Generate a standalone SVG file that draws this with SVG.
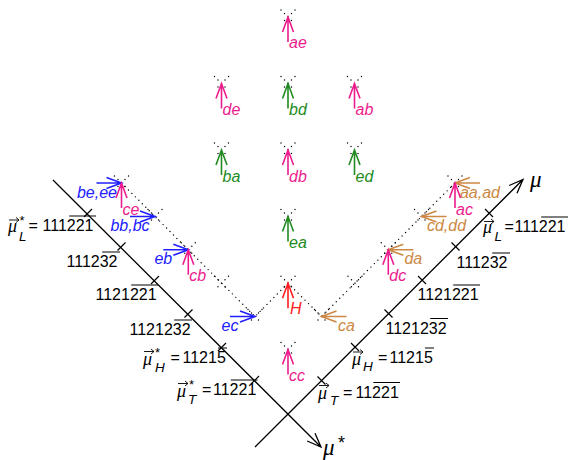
<svg xmlns="http://www.w3.org/2000/svg" width="570" height="460" viewBox="0 0 570 460">
<style>
  text { font-family: "Liberation Sans", Arial, sans-serif; fill: currentColor; }
  .lb { font-size: 16px; font-style: italic; }
  .num { font-size: 16px; font-style: normal; }
  .mu { font-family: "Liberation Serif", "DejaVu Serif", serif; font-style: italic; font-size: 18px; }
  .sub { font-size: 13.5px; font-style: italic; }
  .st { font-size: 13px; font-style: normal; }
  .ax { fill: none; stroke: #000; stroke-width: 1.3; }
  .tk { stroke: #000; stroke-width: 1.2; }
  .ov { stroke: #000; stroke-width: 1; }
  .vec { fill: none; stroke: #000; stroke-width: 0.9; }
  .dot { fill: none; stroke: #000; stroke-width: 1.4; stroke-linecap: round; stroke-dasharray: 0 4.9; }
  .pk { color: #ec1c8e; }
  .gr { color: #228b22; }
  .bl { color: #2020ff; }
  .br { color: #cc8844; }
  .rd { color: #ff2020; }
</style>
<defs>
  <!-- upward arrow, tip at origin -->
  <path id="up" d="M0,0V25M-5.5,15L0,0L5.5,15" fill="none" stroke="currentColor" stroke-width="1.6"/>
  <!-- small dotted cross marking a lattice point -->
  <path id="mk" d="M-7,-7L7,7M7,-7L-7,7" class="dot" style="stroke-dasharray:0 4.95"/>
</defs>

<!-- axes -->
<g id="axes">
  <path class="ax" d="M53,180L321,447M315,433.2L321,447L307.2,441"/>
  <path class="ax" d="M255,447L523,179.5M517,193.3L523,179.5L509.2,185.5"/>
  <path class="tk" d="M84,217L92,209M117.5,250.5L125.5,242.5M151,284L159,276M184.5,317.5L192.5,309.5M218,351L226,343M251,384L259,376"/>
  <path class="tk" d="M485,209L493,217M451.5,242.5L459.5,250.5M418,276L426,284M384.5,309.5L392.5,317.5M351,343L359,351M317.5,376.5L325.5,384.5"/>
  <text class="mu" x="530" y="187" style="font-size:23px">μ</text>
  <text><tspan class="mu" x="323" y="455" style="font-size:23px">μ</tspan><tspan x="338" y="449" style="font-size:18px">*</tspan></text>
</g>

<!-- axis labels, left -->
<g id="labels-left">
  <text><tspan class="mu" x="8" y="232">μ</tspan><tspan class="st" x="19.5" y="225">*</tspan><tspan class="sub" x="19" y="240.5">L</tspan><tspan class="num" x="28.5" y="231">=</tspan><tspan class="num" x="42.5">111221</tspan></text>
  <path class="vec" d="M9,220h10M16,217.5L19,220L16,222.5"/>
  <path class="ov" d="M69.2,216H96"/>

  <text class="num" x="66.5" y="267">111232</text>
  <path class="ov" d="M102.2,252H120"/>

  <text class="num" x="95.5" y="300">1121221</text>
  <path class="ov" d="M131.2,285H158"/>

  <text class="num" x="129.5" y="335">1121232</text>
  <path class="ov" d="M174.2,320H192"/>

  <text><tspan class="mu" x="143" y="365">μ</tspan><tspan class="st" x="155" y="356.5">*</tspan><tspan class="sub" x="155" y="372">H</tspan><tspan class="num" x="170.5" y="363">=</tspan><tspan class="num" x="182.5">11215</tspan></text>
  <path class="vec" d="M144,351.5h10M151,349L154,351.5L151,354"/>
  <path class="ov" d="M218,348H227"/>

  <text><tspan class="mu" x="177" y="397">μ</tspan><tspan class="st" x="189" y="388.5">*</tspan><tspan class="sub" x="188" y="404">T</tspan><tspan class="num" x="202" y="395">=</tspan><tspan class="num" x="213" y="395">11221</tspan></text>
  <path class="vec" d="M178,383.5h10M185,381L188,383.5L185,386"/>
  <path class="ov" d="M230.8,380H257.5"/>
</g>

<!-- axis labels, right -->
<g id="labels-right">
  <text><tspan class="mu" x="483" y="233">μ</tspan><tspan class="sub" x="494.5" y="240.5">L</tspan><tspan class="num" x="504.5" y="232">=</tspan><tspan class="num" x="514.5">111221</tspan></text>
  <path class="vec" d="M484,221.5h10M491,219L494,221.5L491,224"/>
  <path class="ov" d="M541.2,217H568"/>

  <text class="num" x="456.5" y="268">111232</text>
  <path class="ov" d="M492.2,253H510"/>

  <text class="num" x="417.5" y="300">1121221</text>
  <path class="ov" d="M453.2,285H480"/>

  <text class="num" x="385.5" y="333.5">1121232</text>
  <path class="ov" d="M430.2,318.5H448"/>

  <text><tspan class="mu" x="352" y="365">μ</tspan><tspan class="sub" x="363" y="371">H</tspan><tspan class="num" x="378" y="363">=</tspan><tspan class="num" x="389.5">11215</tspan></text>
  <path class="vec" d="M353,352h10M360,349.5L363,352L360,354.5"/>
  <path class="ov" d="M425,348H434"/>

  <text><tspan class="mu" x="318" y="399">μ</tspan><tspan class="sub" x="330" y="405">T</tspan><tspan class="num" x="343" y="397.5">=</tspan><tspan class="num" x="355.5">11221</tspan></text>
  <path class="vec" d="M319,385.5h10M326,383L329,385.5L326,388"/>
  <path class="ov" d="M373.3,382.5H400"/>
</g>

<!-- dotted connectors -->
<g id="connectors">
  <path class="dot" d="M121.5,183L255,316.5L288,283.2L321.5,316.5L455,183"/>
</g>

<!-- lattice nodes -->
<g id="node-ae" class="pk"><use href="#mk" x="288" y="17"/><use href="#up" x="288" y="17"/><text class="lb" x="289" y="48">ae</text></g>
<g id="node-de" class="pk"><use href="#mk" x="221.5" y="83.5"/><use href="#up" x="221.5" y="83.5"/><text class="lb" x="222.5" y="115">de</text></g>
<g id="node-bd" class="gr"><use href="#mk" x="288" y="83.5"/><use href="#up" x="288" y="83.5"/><text class="lb" x="289" y="115">bd</text></g>
<g id="node-ab" class="pk"><use href="#mk" x="354.5" y="83.5"/><use href="#up" x="354.5" y="83.5"/><text class="lb" x="355.5" y="115">ab</text></g>
<g id="node-ba" class="gr"><use href="#mk" x="221.5" y="150"/><use href="#up" x="221.5" y="150"/><text class="lb" x="222.5" y="181.5">ba</text></g>
<g id="node-db" class="pk"><use href="#mk" x="288" y="150"/><use href="#up" x="288" y="150"/><text class="lb" x="289" y="181.5">db</text></g>
<g id="node-ed" class="gr"><use href="#mk" x="354.5" y="150"/><use href="#up" x="354.5" y="150"/><text class="lb" x="355.5" y="181.5">ed</text></g>
<g id="node-ea" class="gr"><use href="#mk" x="288" y="216.5"/><use href="#up" x="288" y="216.5"/><text class="lb" x="289" y="248">ea</text></g>
<g id="node-H" class="rd"><use href="#mk" x="288" y="283.2"/><use href="#up" x="288" y="283.2"/><text class="lb" x="290" y="314">H</text></g>
<g id="node-cc" class="pk"><use href="#mk" x="288" y="349.5"/><use href="#up" x="288" y="349.5"/><text class="lb" x="289" y="381">cc</text></g>

<g id="node-be-ce">
  <use href="#mk" x="121.5" y="183"/>
  <g class="bl"><use href="#up" transform="translate(121.5,183) rotate(90)"/><text class="lb" x="97" y="198" text-anchor="middle">be,ee</text></g>
  <g class="pk"><use href="#up" x="121.5" y="183"/><text class="lb" x="122.5" y="214.5">ce</text></g>
</g>
<g id="node-bb-bc" class="bl">
  <use href="#mk" x="155" y="216.5"/>
  <use href="#up" transform="translate(155,216.5) rotate(90)"/><text class="lb" x="130" y="231" text-anchor="middle">bb,bc</text>
</g>
<g id="node-eb-cb">
  <use href="#mk" x="188.3" y="249.8"/>
  <g class="bl"><use href="#up" transform="translate(188.3,249.8) rotate(90)"/><text class="lb" x="163.3" y="264" text-anchor="middle">eb</text></g>
  <g class="pk"><use href="#up" x="188.3" y="249.8"/><text class="lb" x="189.3" y="281">cb</text></g>
</g>
<g id="node-left-mid"><use href="#mk" x="221.5" y="283.2"/></g>
<g id="node-ec" class="bl">
  <use href="#mk" x="255" y="316.5"/>
  <use href="#up" transform="translate(255,316.5) rotate(90)"/><text class="lb" x="230" y="331" text-anchor="middle">ec</text>
</g>

<g id="node-ca" class="br">
  <use href="#mk" x="321.5" y="316.5"/>
  <use href="#up" transform="translate(321.5,316.5) rotate(-90)"/><text class="lb" x="346.5" y="331" text-anchor="middle">ca</text>
</g>
<g id="node-right-mid"><use href="#mk" x="355" y="283.2"/></g>
<g id="node-da-dc">
  <use href="#mk" x="388.3" y="249.8"/>
  <g class="br"><use href="#up" transform="translate(388.3,249.8) rotate(-90)"/><text class="lb" x="413.3" y="264" text-anchor="middle">da</text></g>
  <g class="pk"><use href="#up" x="388.3" y="249.8"/><text class="lb" x="389.3" y="281">dc</text></g>
</g>
<g id="node-cd-dd" class="br">
  <use href="#mk" x="421.5" y="216.5"/>
  <use href="#up" transform="translate(421.5,216.5) rotate(-90)"/><text class="lb" x="446.5" y="231" text-anchor="middle">cd,dd</text>
</g>
<g id="node-aa-ac">
  <use href="#mk" x="455" y="183"/>
  <g class="br"><use href="#up" transform="translate(455,183) rotate(-90)"/><text class="lb" x="480" y="198" text-anchor="middle">aa,ad</text></g>
  <g class="pk"><use href="#up" x="455" y="183"/><text class="lb" x="456" y="214.5">ac</text></g>
</g>
</svg>
